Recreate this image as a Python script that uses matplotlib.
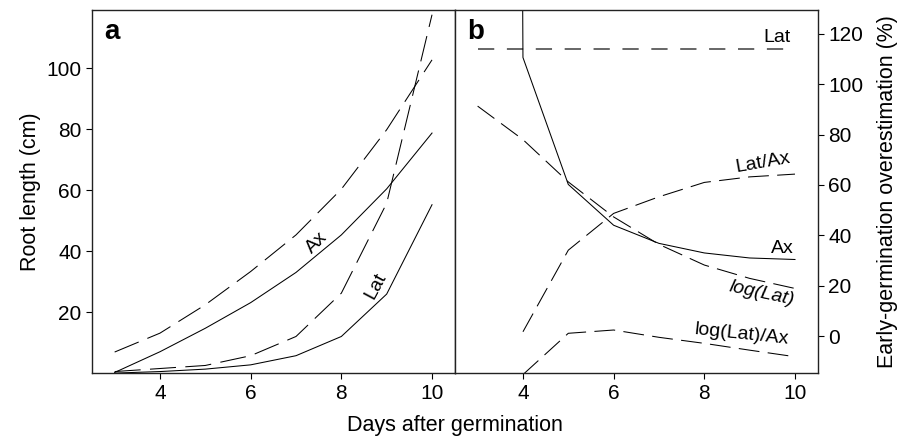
import matplotlib
matplotlib.use('Agg')
import matplotlib.pyplot as plt
import numpy as np

plt.rcParams['font.family'] = ['Liberation Sans', 'DejaVu Sans']

# panel a: root length (cm)
days = [3, 4, 5, 6, 7, 8, 9, 10]
ax_true = [0.2, 7.0, 14.7, 23.1, 33.0, 45.3, 60.4, 78.7]
ax_early = [6.9, 13.1, 22.4, 33.3, 45.3, 60.3, 79.8, 102.7]
lat_true = [0.0, 0.5, 1.3, 2.7, 5.7, 12.0, 25.9, 55.2]
lat_early = [0.5, 1.5, 2.5, 5.7, 12.0, 26.2, 55.7, 117.5]

# panel b: early-germination overestimation (%)
lat_over = [113.9] * 8
ax_over = [3400, 110.6, 60.2, 44.0, 36.8, 33.0, 31.0, 30.4]
loglat_over = [91.3, 78.0, 61.2, 47.3, 36.4, 28.2, 22.9, 18.9]
latax_days = [4, 5, 6, 7, 8, 9, 10]
latax_over = [1.7, 34.1, 48.7, 55.3, 61.0, 63.2, 64.3]
loglatax_over = [-15.3, 1.1, 2.4, -0.5, -2.9, -5.6, -8.2]

dash_a = (0, (25, 9))
dash_b = (0, (20, 8))

fig = plt.figure(figsize=(9, 4.41), dpi=100)
axa = fig.add_axes([0.1022, 0.154, 0.403, 0.823])
axb = fig.add_axes([0.5055, 0.154, 0.403, 0.823])

lw = 0.75
axa.plot(days, ax_true, color='black', lw=lw)
axa.plot(days, ax_early, color='black', lw=lw, linestyle=dash_a)
axa.plot(days, lat_true, color='black', lw=lw)
axa.plot(days, lat_early, color='black', lw=lw, linestyle=dash_a)
axa.set_xlim(2.5, 10.5)
axa.set_ylim(0, 119)
axa.set_xticks([4, 6, 8, 10])
axa.set_yticks([20, 40, 60, 80, 100])
axa.set_ylabel('Root length (cm)', fontsize=15.5, labelpad=4)
axa.text(7.46, 42.8, 'Ax', fontsize=14, rotation=45, ha='center', va='center')
axa.text(8.76, 28.6, 'Lat', fontsize=14, rotation=62, ha='center', va='center')
axa.text(0.035, 0.975, 'a', transform=axa.transAxes, fontsize=20,
         fontweight='bold', ha='left', va='top')

axb.plot(days, lat_over, color='#5a5a5a', lw=1.3, linestyle=(0, (9, 7)))
axb.plot(days, ax_over, color='black', lw=lw)
axb.plot(days, loglat_over, color='black', lw=lw, linestyle=dash_b)
axb.plot(latax_days, latax_over, color='black', lw=lw, linestyle=dash_b)
axb.plot(latax_days, loglatax_over, color='black', lw=lw, linestyle=dash_b)
axb.set_xlim(2.5, 10.5)
axb.set_ylim(-14.7, 129.4)
axb.set_xticks([4, 6, 8, 10])
axb.set_yticks([0, 20, 40, 60, 80, 100, 120])
axb.yaxis.tick_right()
axb.yaxis.set_label_position('right')
axb.set_ylabel('Early-germination overestimation (%)', fontsize=15.5, labelpad=10)
axb.text(9.6, 118.5, 'Lat', fontsize=14, ha='center', va='center')
axb.text(9.3, 68.8, 'Lat/Ax', fontsize=14, rotation=10, ha='center', va='center')
axb.text(9.72, 34.8, 'Ax', fontsize=14, ha='center', va='center')
axb.text(9.28, 16.8, 'log(Lat)', fontsize=14, style='italic', rotation=-12,
         ha='center', va='center')
axb.text(8.83, 0.6, 'log(Lat)/Ax', fontsize=14, rotation=-6,
         ha='center', va='center')
axb.text(0.035, 0.975, 'b', transform=axb.transAxes, fontsize=20,
         fontweight='bold', ha='left', va='top')

for a in (axa, axb):
    a.tick_params(labelsize=15, length=4, width=0.8, direction='out')
    for s in a.spines.values():
        s.set_linewidth(1.0)
        s.set_color('#222222')

fig.text(0.505, 0.035, 'Days after germination', fontsize=15.5, ha='center', va='center')

fig.savefig('out.png', dpi=100)
